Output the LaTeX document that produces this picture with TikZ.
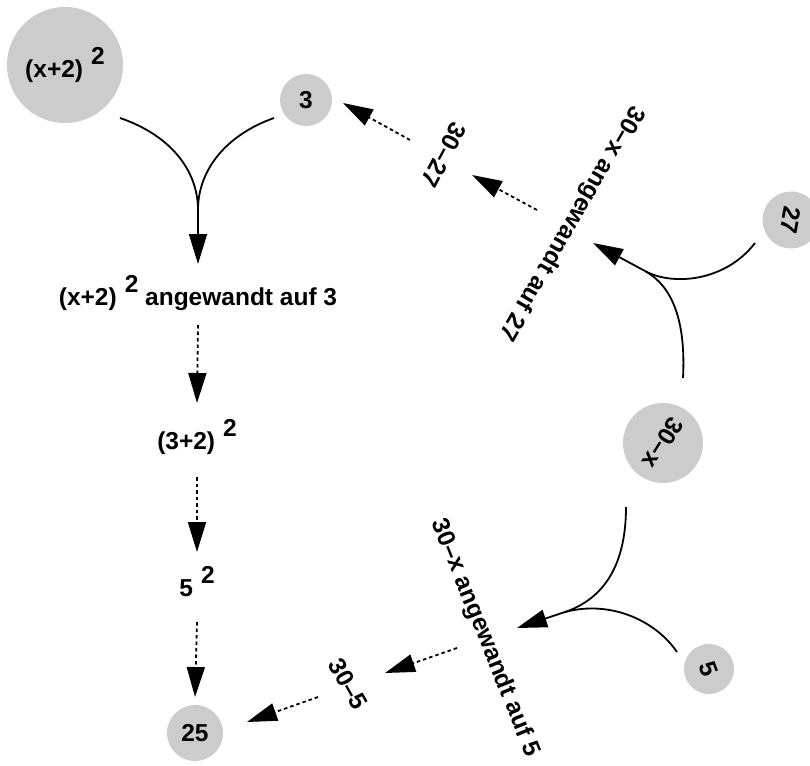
\documentclass[tikz,border=0pt]{standalone}
\usepackage{fontspec}
\setmainfont{Liberation Sans}
\usetikzlibrary{arrows.meta,calc}
\definecolor{nodegray}{HTML}{CCCCCC}
\newcommand{\sq}{\hspace{8pt}\raisebox{13pt}{2}}
\begin{document}
\begin{tikzpicture}[x=1pt,y=-1pt,
  lbl/.style={font=\fontsize{24.5}{28}\selectfont\bfseries, inner sep=0pt},
  blob/.style={lbl, circle, fill=nodegray, inner sep=0pt},
  curve/.style={line width=1.8pt},
  arr/.style={line width=1.8pt, -{Triangle[length=30pt,width=18pt]}},
  darr/.style={arr, dash pattern=on 3.5pt off 3pt}]
\useasboundingbox (0,0) rectangle (810,765);
% nodes
\node[blob, minimum size=116pt] (g) at (65,65) {(x+2)\sq};
\node[blob, minimum size=52pt] (c3) at (306,100) {3};
\node[lbl] (ap1) at (198,293) {(x+2)\sq{} angewandt auf 3};
\node[lbl] (n32) at (197,437) {(3+2)\sq};
\node[lbl] (n52) at (197,582) {5\sq};
\node[blob, minimum size=56pt] (n25) at (195,733) {25};
\node[lbl, rotate=-61] (l305) at (348,684) {30–5};
\node[lbl, rotate=-68] (ap2) at (485,638) {30–x angewandt auf 5};
\node[blob, minimum size=80pt, rotate=-122] (f) at (663,443) {30–x};
\node[blob, minimum size=50pt, rotate=-70] (c5) at (709,669) {5};
\node[blob, minimum size=57pt, rotate=-100] (c27) at (791,220) {27};
\node[lbl, rotate=-120] (ap3) at (571,223) {30–x angewandt auf 27};
\node[lbl, rotate=-118] (l3027) at (444,155) {30–27};
% merge points
\coordinate (m1) at (198,210);
\coordinate (m2) at (565,612);
\coordinate (m3) at (645,271);
% top-left merge
\draw[curve] ($(g)+(55,53)$) .. controls (170,135) and (198,170) .. (m1);
\draw[curve] ($(c3)+(-32,18)$) .. controls (226,135) and (198,170) .. (m1);
\draw[arr] (m1) -- ($(ap1)+(0,-29)$);
% left chain
\draw[darr] ($(ap1)+(0,32)$) -- ($(n32)+(0,-34)$);
\draw[darr] ($(n32)+(0,40)$) -- ($(n52)+(0,-30)$);
\draw[darr] ($(n52)+(0,40)$) -- ($(n25)+(0,-36)$);
% bottom merge
\draw[curve] ($(f)+(-37,64)$) .. controls (626,570) and (600,600) .. (m2);
\draw[curve] ($(c5)+(-32,-17)$) .. controls (655,620) and (610,600) .. (m2);
\draw[arr] (m2) -- ($(ap2)+(32,-10)$);
\draw[darr] ($(ap2)+(-28,10)$) -- ($(l305)+(37,-11)$);
\draw[darr] ($(l305)+(-30,13)$) -- ($(n25)+(52,-11)$);
% top-right merge
\draw[curve] ($(c27)+(-36,23)$) .. controls (725,282) and (672,286) .. (m3);
\draw[curve] ($(f)+(20,-65)$) .. controls (686,320) and (672,286) .. (m3);
\draw[arr] (m3) -- ($(ap3)+(22,20)$);
\draw[darr] ($(ap3)+(-34,-13)$) -- ($(l3027)+(28,20)$);
\draw[darr] ($(l3027)+(-34,-15)$) -- ($(c3)+(37,3)$);
\end{tikzpicture}
\end{document}
